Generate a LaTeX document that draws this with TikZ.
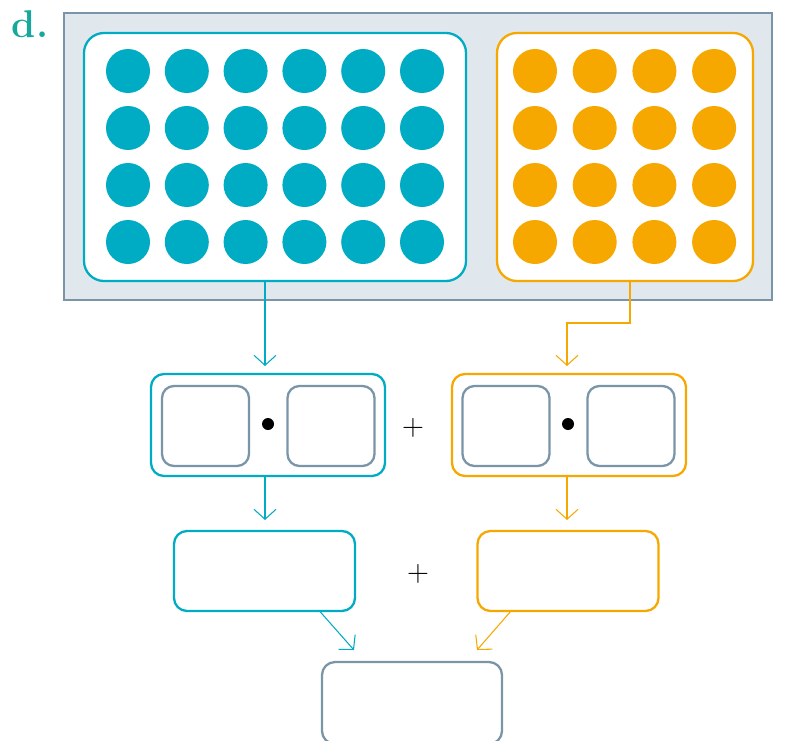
\documentclass[tikz,border=0pt]{standalone}
\usetikzlibrary{arrows.meta}

\definecolor{tealc}{HTML}{00ABC4}
\definecolor{orangec}{HTML}{F6A800}
\definecolor{greyc}{HTML}{7A95A8}
\definecolor{framefill}{HTML}{E0E7ED}
\definecolor{labelc}{HTML}{16A89C}

\tikzset{
  box/.style={draw,rectangle,rounded corners=2.6mm,line width=1.3pt,fill=white,outer sep=0pt,inner sep=0pt},
  slot/.style={box,draw=greyc,minimum width=17.4mm,minimum height=16mm,rounded corners=2.4mm},
  tarrow/.style={draw=tealc,line width=0.6pt,-{Straight Barb[length=2mm,width=4.4mm]}},
  oarrow/.style={draw=orangec,line width=0.6pt,-{Straight Barb[length=2mm,width=4.4mm]}}
}

\begin{document}
\begin{tikzpicture}[x=0.2mm,y=-0.2mm]
  \clip (0,0) rectangle (788,740);

  % faint mark behind the label
  \draw[line width=5pt,black!6] (-10,-22) arc (60:-60:40);
  \node[text=labelc,font=\fontsize{22}{24}\selectfont\bfseries] (label) at (30,24) {d.};

  % the two groups of counters
  \node[draw=greyc,fill=framefill,line width=1.3pt,minimum width=141.6mm,minimum height=57.4mm,outer sep=0pt] (frame) at (418,156.5) {};
  \node[box,draw=tealc,minimum width=76.4mm,minimum height=49.6mm,rounded corners=4mm] (tealgrp) at (275,157) {};
  \node[box,draw=orangec,minimum width=51.2mm,minimum height=49.6mm,rounded corners=4mm] (orangegrp) at (625,157) {};

  \foreach \c in {0,...,5}
    \foreach \r in {0,...,3}
      \fill[tealc] (128+58.8*\c,71+57*\r) circle (4.4mm);
  \foreach \c in {0,...,3}
    \foreach \r in {0,...,3}
      \fill[orangec] (535+59.7*\c,71+57*\r) circle (4.4mm);

  % products
  \node[box,draw=tealc,minimum width=46.8mm,minimum height=20.4mm] (tealprod) at (268,425) {};
  \node[slot] (tealfirst) at (205.5,426) {};
  \node[slot] (tealsecond) at (331,426) {};
  \fill (268,424) circle (1.2mm);

  \node[box,draw=orangec,minimum width=46.8mm,minimum height=20.4mm] (orangeprod) at (569,425) {};
  \node[slot] (orangefirst) at (506,426) {};
  \node[slot] (orangesecond) at (631,426) {};
  \fill (568,424) circle (1.2mm);

  \node[font=\LARGE] (plusprod) at (413,428) {$+$};

  % sums
  \node[box,draw=tealc,minimum width=36.2mm,minimum height=16mm] (tealsum) at (264.5,571) {};
  \node[box,draw=orangec,minimum width=36.2mm,minimum height=16mm] (orangesum) at (568,571) {};
  \node[font=\LARGE] (plussum) at (418,574) {$+$};

  \node[box,draw=greyc,minimum width=36mm,minimum height=16.4mm] (total) at (412,703) {};

  % connectors
  \draw[tarrow,shorten >=1.6mm] ([xshift=-0.6mm]tealgrp.south -| tealprod.north) -- ([xshift=-0.6mm]tealprod.north);
  \draw[oarrow,shorten >=1.6mm] ([xshift=1mm]orangegrp.south) -- ++(0,42) -| ([xshift=-0.4mm]orangeprod.north);

  \draw[tarrow,shorten >=2.2mm] ([xshift=-0.6mm]tealprod.south) -- ([xshift=-0.6mm]tealprod.south |- tealsum.north);
  \draw[oarrow,shorten >=2.2mm] ([xshift=-0.4mm]orangeprod.south) -- ([xshift=-0.4mm]orangeprod.south |- orangesum.north);

  \coordinate (tealin) at ([xshift=-11.6mm,yshift=2.4mm]total.north);
  \coordinate (orangein) at ([xshift=13mm,yshift=2.4mm]total.north);
  \draw[tarrow] ([xshift=11mm]tealsum.south) -- (tealin);
  \draw[oarrow] ([xshift=-11.4mm]orangesum.south) -- (orangein);
\end{tikzpicture}
\end{document}
